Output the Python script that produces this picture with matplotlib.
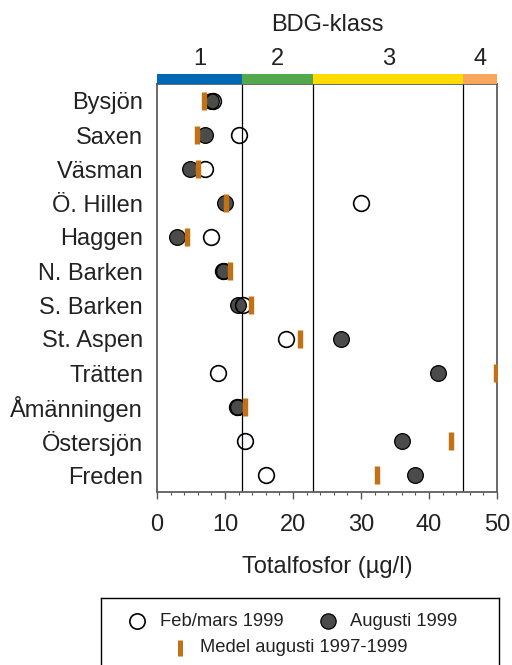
import matplotlib
matplotlib.use("Agg")
import matplotlib.pyplot as plt
from matplotlib.patches import Rectangle
from matplotlib.ticker import MultipleLocator

plt.rcParams['font.family'] = ['Liberation Sans', 'DejaVu Sans']

# Total phosphorus (µg/l) per lake
lakes = ["Bysjön", "Saxen", "Väsman", "Ö. Hillen", "Haggen", "N. Barken",
         "S. Barken", "St. Aspen", "Trätten", "Åmänningen", "Östersjön", "Freden"]
feb_mars_1999 = [8.2, 12, 7, 30, 8, 9.7, 12.6, 19, 9, 11.7, 13, 16]
augusti_1999 = [7.95, 7.05, 4.85, 10, 2.9, 9.9, 11.85, 27, 41.3, 11.9, 36, 38]
medel_aug_1997_1999 = [6.9, 5.9, 6.0, 10.2, 4.4, 10.7, 13.8, 21.1, 49.8, 13.0, 43.3, 32.3]

# BDG classes
class_edges = [0, 12.5, 23, 45, 50]
class_labels = ["1", "2", "3", "4"]
class_colors = ["#0068b4", "#52a84a", "#ffdc00", "#f8a65c"]

TEXT = "#222222"
FS = 17
W, H = 512, 665

fig = plt.figure(figsize=(W / 100, H / 100), dpi=100)
ax = fig.add_axes([157 / W, (H - 492) / H, 340 / W, 408 / H])

ypos = list(range(len(lakes)))

# class boundaries
for edge in class_edges[1:-1]:
    ax.axvline(edge, color="black", lw=0.9, zorder=1)

bar_color = "#c27216"
ax.plot(augusti_1999, ypos, "o", ms=11.3, mfc="#4b4b4b", mec="black", mew=0.9, ls="none", zorder=3)
ax.plot(feb_mars_1999, ypos, "o", ms=11.3, mfc="none", mec="black", mew=1.2, ls="none", zorder=4)
ax.plot(medel_aug_1997_1999, ypos, "|", ms=12.5, mec=bar_color, mew=3.9, ls="none", zorder=5)

ax.set_xlim(0, 50)
ax.set_ylim(len(lakes) - 0.5, -0.5)
ax.set_yticks(ypos)
ax.set_yticklabels(lakes, fontsize=FS, color=TEXT)
ax.tick_params(axis="y", length=0, pad=10)

ax.xaxis.set_major_locator(MultipleLocator(10))
ax.xaxis.set_minor_locator(MultipleLocator(2))
ax.tick_params(axis="x", which="major", length=5, width=1, color="#555555",
               labelsize=FS, labelcolor=TEXT, pad=11)
ax.tick_params(axis="x", which="minor", length=2.5, width=0.8, color="#555555")
ax.set_xlabel("Totalfosfor (µg/l)", fontsize=FS, color=TEXT, labelpad=14.5)

for sp in ax.spines.values():
    sp.set_color("#5e5e5e")
    sp.set_linewidth(1.3)

# colour band with class numbers above the plot
xa = ax.get_xaxis_transform()
for lo, hi, lab, col in zip(class_edges[:-1], class_edges[1:], class_labels, class_colors):
    ax.add_patch(Rectangle((lo, 1.0), hi - lo, 0.0245, transform=xa, color=col,
                           clip_on=False, lw=0, zorder=6))
    ax.text((lo + hi) / 2, 1.062, lab, transform=xa, ha="center", va="center",
            fontsize=FS, color=TEXT)
ax.text(25, 1.145, "BDG-klass", transform=xa, ha="center", va="center",
        fontsize=FS, color=TEXT)

# legend box
lg = fig.add_axes([101 / W, (H - 700) / H, 398 / W, 102 / H])
lg.set_xlim(101, 499)
lg.set_ylim(700, 598)
lg.set_xticks([])
lg.set_yticks([])
for sp in lg.spines.values():
    sp.set_color("black")
    sp.set_linewidth(1.0)
LFS = 13.2
lg.plot([137], [621], "o", ms=11, mfc="white", mec="black", mew=1.2)
lg.text(160, 621, "Feb/mars 1999", fontsize=LFS, color=TEXT, va="center")
lg.plot([328], [621], "o", ms=11, mfc="#4b4b4b", mec="black", mew=0.9)
lg.text(350, 621, "Augusti 1999", fontsize=LFS, color=TEXT, va="center")
lg.plot([180], [648], "|", ms=12, mec=bar_color, mew=3.6)
lg.text(200, 648, "Medel augusti 1997-1999", fontsize=LFS, color=TEXT, va="center")

fig.savefig("out.png", dpi=100)
